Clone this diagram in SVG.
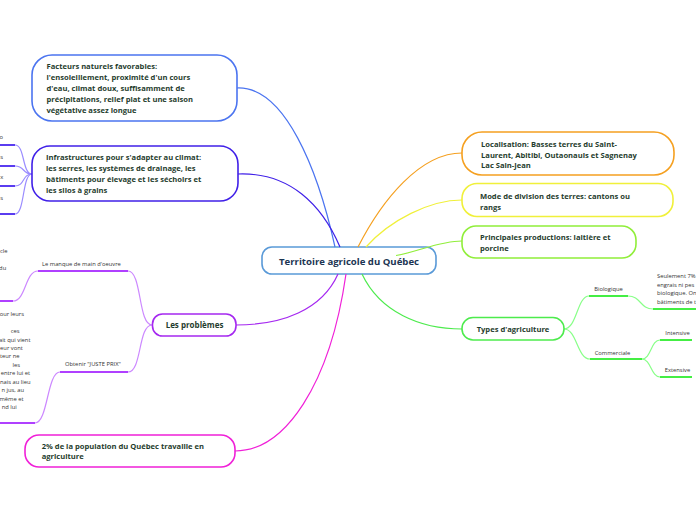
<svg xmlns="http://www.w3.org/2000/svg" width="696" height="520" viewBox="0 0 696 520">
<style>
.bg{fill:#ffffff}
.box{fill:#ffffff;stroke-width:1.6}
.t{font-family:"Open Sans","Noto Sans",sans-serif;font-weight:700;font-size:7.6px;fill:#1f3d2e}
.tc{font-family:"Open Sans","Noto Sans",sans-serif;font-weight:700;font-size:9.6px;fill:#1c3553}
.s{font-family:"Open Sans","Noto Sans",sans-serif;font-size:5.8px;fill:#333333}
.c{fill:none;stroke-width:1.2}
.u{fill:none;stroke-width:2.2}
</style>
<rect class="bg" x="0" y="0" width="696" height="520"/>
<g id="center">
  <rect class="box" x="262" y="247" width="174" height="27" rx="10" stroke="#5a9ad8"/>
  <text class="tc" x="349" y="264.5" text-anchor="middle">Territoire agricole du Québec</text>
</g>
<g id="connectors">
  <path class="c" stroke="#4b74f0" d="M237,88 C285,86 318,170 335,247"/>
  <path class="c" stroke="#4020e8" d="M238,174 C290,172 322,205 340,247"/>
  <path class="c" stroke="#f5a020" d="M358,247 C382,200 420,153 462,153"/>
  <path class="c" stroke="#f0f03a" d="M366,247 C390,220 430,200 462,200"/>
  <path class="c" stroke="#90ee3a" d="M396,255.5 C420,251 440,241 462,241"/>
  <path class="c" stroke="#4deb4d" d="M362,274 C380,312 420,329 462,329"/>
  <path class="c" stroke="#a528f0" d="M338,274 C322,310 282,325 236,325"/>
  <path class="c" stroke="#f020d8" d="M346,274 C330,385 285,451 235,451"/>
  <path class="c" stroke="#9a8cff" d="M32,174 C22,174 25,145 15,145"/>
  <path class="c" stroke="#9a8cff" d="M32,174 C22,174 25,166 15,166"/>
  <path class="c" stroke="#9a8cff" d="M32,174 C22,174 25,186 15,186"/>
  <path class="c" stroke="#9a8cff" d="M32,174 C22,174 25,214 15,214"/>
  <path class="u" stroke="#5a3cf0" d="M0,145 H15 M0,166 H15 M0,186 H15 M0,214 H15"/>
  <path class="c" stroke="#cc88ff" d="M152,325 C138,325 142,271 128,271"/>
  <path class="c" stroke="#cc88ff" d="M152,325 C138,325 142,372 128,372"/>
  <path class="c" stroke="#cc88ff" d="M38,271 C25,271 26,301 13,301"/>
  <path class="c" stroke="#cc88ff" d="M60,372 C47,372 48,423 35,423"/>
  <path class="u" stroke="#b040ff" d="M38,271 H128 M60,372 H128 M0,301 H13 M0,423 H35"/>
  <path class="c" stroke="#88ff88" d="M564,329 C577,329 577,296 589,296"/>
  <path class="c" stroke="#88ff88" d="M564,329 C577,329 577,359 590,359"/>
  <path class="c" stroke="#88ff88" d="M628,296 C641,296 640,309 653,309"/>
  <path class="c" stroke="#88ff88" d="M642,359 C651,359 651,340 660,340"/>
  <path class="c" stroke="#88ff88" d="M642,359 C651,359 651,377 660,377"/>
  <path class="u" stroke="#44ee44" d="M589,296 H628 M653,309 H696 M590,359 H642 M660,340 H692 M660,377 H692"/>
</g>
<g id="facteurs">
  <rect class="box" x="32" y="55" width="205" height="66" rx="20" stroke="#4b74f0"/>
  <text class="t" x="46.5" y="69">Facteurs naturels favorables:</text>
  <text class="t" x="46.5" y="80">l'ensoleillement, proximité d'un cours</text>
  <text class="t" x="46.5" y="91">d'eau, climat doux, suffisamment de</text>
  <text class="t" x="46.5" y="102">précipitations, relief plat et une saison</text>
  <text class="t" x="46.5" y="113">végétative assez longue</text>
</g>
<g id="infrastructures">
  <rect class="box" x="32" y="146" width="206" height="55" rx="18" stroke="#4020e8"/>
  <text class="t" x="46" y="159.5">Infrastructures pour s'adapter au climat:</text>
  <text class="t" x="46" y="170.5">les serres, les systèmes de drainage, les</text>
  <text class="t" x="46" y="181.5">bâtiments pour élevage et les séchoirs et</text>
  <text class="t" x="46" y="192.5">les silos à grains</text>
  <text class="s" x="3" y="138.5" text-anchor="end">o</text>
  <text class="s" x="3" y="159" text-anchor="end">s</text>
  <text class="s" x="3.2" y="179" text-anchor="end">x</text>
  <text class="s" x="3" y="200" text-anchor="end">s</text>
</g>
<g id="localisation">
  <rect class="box" x="462" y="132" width="212" height="43" rx="20" stroke="#f5a020"/>
  <text class="t" x="481" y="147">Localisation: Basses terres du Saint-</text>
  <text class="t" x="481" y="157.5">Laurent, Abitibi, Outaonauls et Sagnenay</text>
  <text class="t" x="481" y="168">Lac Sain-Jean</text>
</g>
<g id="mode">
  <rect class="box" x="462" y="183.5" width="211" height="33" rx="15" stroke="#f0f03a"/>
  <text class="t" x="480" y="199">Mode de division des terres: cantons ou</text>
  <text class="t" x="480" y="209.5">rangs</text>
</g>
<g id="principales">
  <rect class="box" x="462" y="226" width="174" height="32" rx="14" stroke="#90ee3a"/>
  <text class="t" x="480" y="240">Principales productions: laitière et</text>
  <text class="t" x="480" y="250.5">porcine</text>
</g>
<g id="types">
  <rect class="box" x="462" y="317.5" width="102" height="22.5" rx="11" stroke="#4deb4d"/>
  <text class="t" x="513" y="331.5" text-anchor="middle">Types d'agriculture</text>
</g>
<g id="biologique">
  <text class="s" x="608.5" y="291" text-anchor="middle">Biologique</text>
</g>
<g id="seulement">
  <text class="s" x="657" y="278">Seulement 7%</text>
  <text class="s" x="657" y="286.5">engrais ni pes</text>
  <text class="s" x="657" y="295">biologique. On</text>
  <text class="s" x="657" y="303.5">bâtiments de t</text>
</g>
<g id="commerciale">
  <text class="s" x="612.5" y="354.5" text-anchor="middle">Commerciale</text>
</g>
<g id="intensive">
  <text class="s" x="677.5" y="334.7" text-anchor="middle">Intensive</text>
</g>
<g id="extensive">
  <text class="s" x="677.5" y="372" text-anchor="middle">Extensive</text>
</g>
<g id="problemes">
  <rect class="box" x="152.5" y="314" width="83.5" height="22" rx="10" stroke="#a528f0"/>
  <text class="t" x="194.5" y="327.8" text-anchor="middle" style="font-size:8px">Les problèmes</text>
</g>
<g id="manque">
  <text class="s" x="42" y="265.5">Le manque de main d'oeuvre</text>
  <text class="s" x="7.5" y="252.8" text-anchor="end">cle</text>
  <text class="s" x="6.2" y="269.8" text-anchor="end">du</text>
</g>
<g id="justeprix">
  <text class="s" x="65" y="366">Obtenir "JUSTE PRIX"</text>
  <text class="s" x="24" y="316" text-anchor="end">our leurs</text>
  <text class="s" x="19.5" y="333" text-anchor="end">ces</text>
  <text class="s" x="30.5" y="341.5" text-anchor="end">ait qui vient</text>
  <text class="s" x="22.8" y="350" text-anchor="end">eur vont</text>
  <text class="s" x="19.5" y="358.3" text-anchor="end">teur ne</text>
  <text class="s" x="20" y="366.5" text-anchor="end">les</text>
  <text class="s" x="30" y="375" text-anchor="end">entre lui et</text>
  <text class="s" x="30.5" y="383.5" text-anchor="end">nais au lieu</text>
  <text class="s" x="24" y="392" text-anchor="end">n jus, au</text>
  <text class="s" x="23.5" y="400.5" text-anchor="end">même et</text>
  <text class="s" x="16.8" y="409.3" text-anchor="end">nd lui</text>
</g>
<g id="population">
  <rect class="box" x="25" y="435" width="210" height="32" rx="14" stroke="#f020d8"/>
  <text class="t" x="41.7" y="448.5">2% de la population du Québec travaille en</text>
  <text class="t" x="41.7" y="459">agriculture</text>
</g>
</svg>
